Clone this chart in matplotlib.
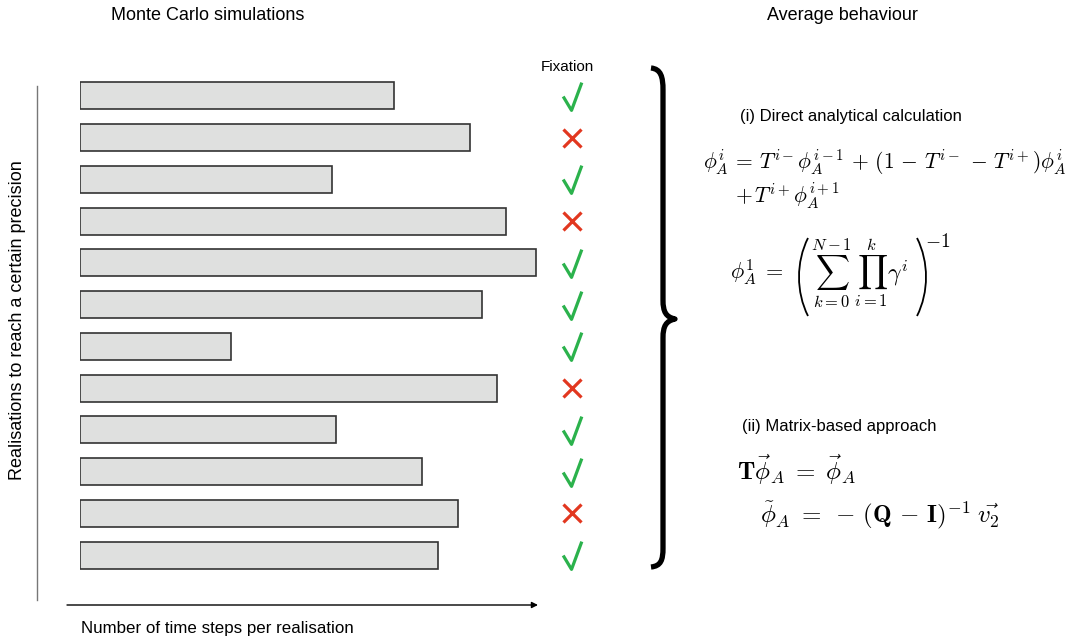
import matplotlib
matplotlib.use("Agg")
import matplotlib.pyplot as plt
from matplotlib.path import Path
from matplotlib.patches import PathPatch

plt.rcParams['font.family'] = ['Liberation Sans', 'DejaVu Sans']
plt.rcParams['mathtext.fontset'] = 'cm'

# time steps needed by each Monte Carlo realisation (arbitrary units)
steps = [314, 390, 252, 426, 456, 402, 151, 417, 256, 342, 378, 358]
# 1 = fixation reached, 0 = not
fixation = [1, 0, 1, 0, 1, 1, 1, 0, 1, 1, 0, 1]

green = '#2bb24c'
red = '#e2371f'

fig = plt.figure(figsize=(10.85, 6.4), dpi=100)

# overlay in pixel coords for annotations
ov = fig.add_axes([0, 0, 1, 1])
ov.set_xlim(0, 1085)
ov.set_ylim(640, 0)
ov.axis('off')

# bars
W, H = 1085, 640
bx = fig.add_axes([80 / W, 64 / H, 520 / W, 501 / H])
bx.set_xlim(0, 520)
bx.set_ylim(len(steps) - 0.5, -0.5)
bx.axis('off')
rows = list(range(len(steps)))
bx.barh(rows, steps, height=0.65, left=0, color='#dfe0df',
        edgecolor='#333333', linewidth=1.2)

check = Path([(-0.67, 0.0), (-0.07, -1.0), (0.67, 1.0)],
             [Path.MOVETO, Path.LINETO, Path.LINETO])
for r, f in zip(rows, fixation):
    if f:
        bx.plot(492, r, marker=check, markersize=20, mfc='none',
                mec=green, mew=2.3, linestyle='none')
    else:
        bx.plot(492, r, marker='x', markersize=13, mec=red, mew=2.3,
                linestyle='none')

# titles / labels
ov.text(208, 16, 'Monte Carlo simulations', ha='center', va='center', fontsize=13)
ov.text(842, 16, 'Average behaviour', ha='center', va='center', fontsize=13)
ov.text(567, 67, 'Fixation', ha='center', va='center', fontsize=11)
ov.text(81, 628, 'Number of time steps per realisation', ha='left', va='center',
        fontsize=12.2)
ov.text(18, 320, 'Realisations to reach a certain precision', ha='center',
        va='center', rotation=90, fontsize=13)

# axes lines
ov.plot([37, 37], [86, 600], color='#777777', lw=1)
ov.annotate('', xy=(538, 605), xytext=(67, 605),
            arrowprops=dict(arrowstyle='-|>', lw=1, color='black',
                            mutation_scale=9, shrinkA=0, shrinkB=0))

# curly brace
verts = [(651, 68), (661, 69), (663, 77), (663, 90),
         (663, 300),
         (663, 312), (666, 317), (675, 319),
         (666, 321), (663, 326), (663, 338),
         (663, 548),
         (663, 560), (661, 566), (651, 567)]
codes = [Path.MOVETO, Path.CURVE4, Path.CURVE4, Path.CURVE4,
         Path.LINETO,
         Path.CURVE4, Path.CURVE4, Path.CURVE4,
         Path.CURVE4, Path.CURVE4, Path.CURVE4,
         Path.LINETO,
         Path.CURVE4, Path.CURVE4, Path.CURVE4]
ov.add_patch(PathPatch(Path(verts, codes), fill=False, lw=3.8, color='black',
                       capstyle='butt', joinstyle='round'))

# equations
ov.text(740, 117, '(i) Direct analytical calculation', ha='left', va='center',
        fontsize=12)
ov.text(703, 162, r'$\phi^i_A \,=\, T^{i-}\phi^{i-1}_A \,+\, (1 \,-\, T^{i-} \,-\, T^{i+})\phi^i_A$',
        ha='left', va='center', fontsize=15.5)
ov.text(735, 196, r'$+\, T^{i+}\phi^{i+1}_A$', ha='left', va='center', fontsize=15.5)

ov.text(730, 272, r'$\phi^1_A \;=$', ha='left', va='center', fontsize=16)
ov.text(811, 273, r'$\sum_{k=0}^{N-1}\,\prod_{i=1}^{k}\gamma^i$', ha='left',
        va='center', fontsize=17)
ov.text(925, 242, r'$-1$', ha='left', va='center', fontsize=14)
lp = Path([(808, 238), (796, 262), (796, 292), (808, 316)],
          [Path.MOVETO, Path.CURVE4, Path.CURVE4, Path.CURVE4])
rp = Path([(917, 238), (929, 262), (929, 292), (917, 316)],
          [Path.MOVETO, Path.CURVE4, Path.CURVE4, Path.CURVE4])
for p in (lp, rp):
    ov.add_patch(PathPatch(p, fill=False, lw=1.3, color='black'))

ov.text(742, 427, '(ii) Matrix-based approach', ha='left', va='center',
        fontsize=12)
ov.text(737, 470, r'$\mathbf{T}\vec{\phi}_A \;=\; \vec{\phi}_A$', ha='left',
        va='center', fontsize=18)
ov.text(760, 515, r'$\tilde{\phi}_A \;=\; -\,(\mathbf{Q} \,-\, \mathbf{I})^{-1}\;\vec{v_2}$',
        ha='left', va='center', fontsize=18)

fig.savefig('out.png', dpi=100)
